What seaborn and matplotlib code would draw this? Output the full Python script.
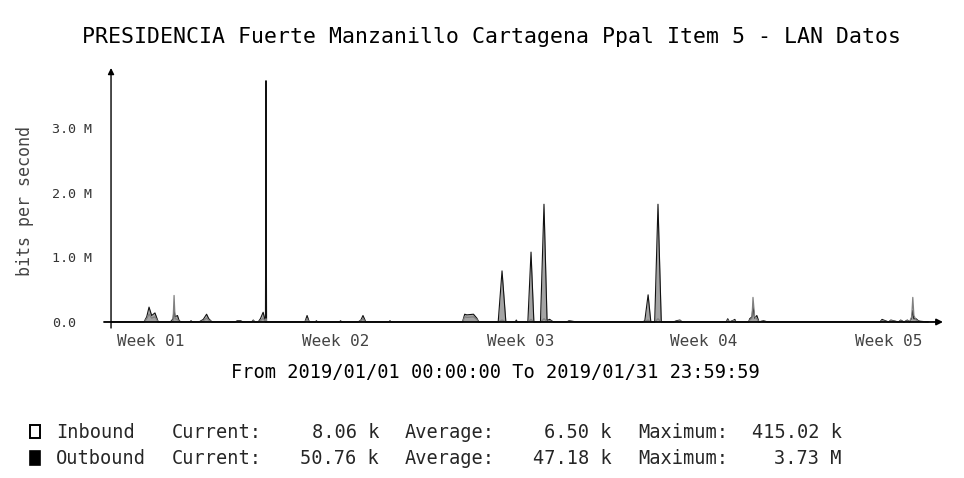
import pandas as pd
import matplotlib
matplotlib.use("Agg")
import matplotlib.pyplot as plt
from matplotlib.patches import Rectangle
import seaborn as sns

sns.set_theme(style="white")
plt.rcParams['font.family'] = ['DejaVu Sans Mono', 'DejaVu Sans']

# hours since 2019/01/01 00:00, values in Mbit/s
hours = [0, 30, 32.5, 34.6, 37, 40, 43, 54, 56.5, 57.4, 58.3, 60.5, 62, 64,
         72, 72.8, 74, 80, 84, 87, 89, 92, 113, 115, 118, 120, 128, 129.5, 131,
         134, 136, 138.5, 140.6, 141.1, 141.6, 170, 176.5, 178.5, 180.5, 186,
         187, 188, 208, 209, 210, 225, 227.5, 229.4, 232, 253, 254, 255, 320,
         322, 324, 330, 333, 335, 352.5, 356, 359.5, 368, 369, 370, 379.5,
         382.4, 385, 391, 394.2, 397, 399, 399.5, 401, 403, 415, 417, 424,
         477, 484, 486, 489, 491.5, 495, 498, 501, 512, 515, 518, 520, 560,
         561.5, 563, 567, 568, 569, 580.5, 581.5, 583.6, 584.5, 586, 588, 590,
         592, 594, 598, 700, 702, 708, 710, 717, 719, 722, 725, 727, 729,
         730, 731, 733, 735, 737, 744]
outbound = [0, 0, 0.08, 0.23, 0.10, 0.14, 0, 0, 0.05, 0.20, 0.08, 0.10, 0.02, 0,
            0, 0.02, 0, 0, 0.04, 0.12, 0.05, 0, 0, 0.02, 0.02, 0, 0, 0.03, 0,
            0, 0.05, 0.15, 0, 3.73, 0, 0, 0, 0.10, 0, 0,
            0.02, 0, 0, 0.02, 0, 0, 0.03, 0.10, 0, 0, 0.02, 0, 0,
            0.12, 0.11, 0.12, 0.06, 0, 0, 0.79, 0, 0, 0.03, 0, 0,
            1.08, 0, 0, 1.82, 0.02, 0.04, 0.04, 0.02, 0, 0, 0.02, 0,
            0, 0, 0.02, 0.42, 0, 0, 1.82, 0, 0, 0.02, 0.03, 0, 0,
            0.05, 0, 0.03, 0.04, 0, 0, 0.05, 0.08, 0.25, 0.06, 0.10, 0,
            0.01, 0.02, 0, 0, 0.04, 0, 0.03, 0, 0.03, 0, 0.03, 0, 0.06,
            0.18, 0.05, 0.05, 0.02, 0.01, 0]
inbound = [0, 0, 0.05, 0.12, 0.06, 0.08, 0, 0, 0.02, 0.41, 0.05, 0.04, 0.01, 0,
           0, 0.01, 0, 0, 0.02, 0.06, 0.03, 0, 0, 0.01, 0.01, 0, 0, 0.02, 0,
           0, 0.02, 0.06, 0, 0.05, 0, 0, 0, 0.05, 0, 0,
           0.01, 0, 0, 0.01, 0, 0, 0.02, 0.05, 0, 0, 0.01, 0, 0,
           0.08, 0.07, 0.08, 0.04, 0, 0, 0.03, 0, 0, 0.01, 0, 0,
           0.04, 0, 0, 0.05, 0.01, 0.02, 0.02, 0.01, 0, 0, 0.01, 0,
           0, 0, 0.01, 0.03, 0, 0, 0.05, 0, 0, 0.01, 0.02, 0, 0,
           0.03, 0, 0.02, 0.02, 0, 0, 0.03, 0.06, 0.38, 0.08, 0.05, 0,
           0.01, 0.01, 0, 0, 0.02, 0, 0.02, 0, 0.02, 0, 0.02, 0, 0.08,
           0.38, 0.10, 0.03, 0.01, 0.01, 0]

week_labels = ["Week 01", "Week 02", "Week 03", "Week 04", "Week 05"]
week_pos = [36.4, 204.9, 373.3, 540.0, 708.4]
ytick_vals = [0, 1, 2, 3]
ytick_labels = ["0.0", "1.0 M", "2.0 M", "3.0 M"]

legend_rows = [
    ("Inbound", "8.06 k", "6.50 k", "415.02 k"),
    ("Outbound", "50.76 k", "47.18 k", "3.73 M"),
]

df = pd.DataFrame({"hour": hours, "Outbound": outbound, "Inbound": inbound})

W, H = 964, 478
fig = plt.figure(figsize=(W / 100, H / 100), dpi=100)

def fx(px):
    return px / W

def fy(py):
    return 1 - py / H

ax = fig.add_axes([fx(104), fy(328), fx(943 - 104), (328 - 68) / H])
ax.fill_between(df["hour"], 0, df["Outbound"], color="#a4a4a4", linewidth=0)
sns.lineplot(data=df, x="hour", y="Outbound", ax=ax, color="#111111", lw=0.8)
sns.lineplot(data=df, x="hour", y="Inbound", ax=ax, color="#808080", lw=0.9)

ax.set_xlim(-6.4, 757.5)
ax.set_ylim(-0.093, 3.926)
for s in ax.spines.values():
    s.set_visible(False)

# axis arrows
ax.annotate("", xy=(757.5, 0), xytext=(-6.4, 0),
            arrowprops=dict(arrowstyle="-|>", color="black", lw=1.3,
                            mutation_scale=9, shrinkA=0, shrinkB=0))
ax.annotate("", xy=(0, 3.926), xytext=(0, -0.093),
            arrowprops=dict(arrowstyle="-|>", color="black", lw=1.0,
                            mutation_scale=9, shrinkA=0, shrinkB=0))

ax.set_xticks(week_pos)
ax.set_xticklabels(week_labels, fontsize=11.5, color="#444444")
ax.set_yticks(ytick_vals)
ax.set_yticklabels(ytick_labels, fontsize=9.6, color="#333333", ha="left")
ax.tick_params(axis="x", length=0, pad=4)
ax.tick_params(axis="y", length=0, pad=37.4)
ax.set_xlabel("")
ax.set_ylabel("")

fig.text(fx(25), fy(201), "bits per second", rotation=90, ha="center",
         va="center", fontsize=12, color="#444444")
fig.text(fx(492), fy(37), "PRESIDENCIA Fuerte Manzanillo Cartagena Ppal Item 5 - LAN Datos",
         ha="center", va="center", fontsize=15.5, color="black")
fig.text(fx(495), fy(372), "From 2019/01/01 00:00:00 To 2019/01/31 23:59:59",
         ha="center", va="center", fontsize=13.4, color="black")

row_y = [432, 459]
for (name, cur, avg, mx), y in zip(legend_rows, row_y):
    fig.text(fx(56), fy(y), name, ha="left", va="center", fontsize=13.4)
    fig.text(fx(172), fy(y), "Current:", ha="left", va="center", fontsize=13.4)
    fig.text(fx(379), fy(y), cur, ha="right", va="center", fontsize=13.4)
    fig.text(fx(405), fy(y), "Average:", ha="left", va="center", fontsize=13.4)
    fig.text(fx(612), fy(y), avg, ha="right", va="center", fontsize=13.4)
    fig.text(fx(638), fy(y), "Maximum:", ha="left", va="center", fontsize=13.4)
    fig.text(fx(842), fy(y), mx, ha="right", va="center", fontsize=13.4)

fig.patches.append(Rectangle((fx(30), fy(438)), fx(10), 13 / H, transform=fig.transFigure,
                             facecolor="white", edgecolor="black", lw=1.4))
fig.patches.append(Rectangle((fx(30), fy(465)), fx(10), 14 / H, transform=fig.transFigure,
                             facecolor="black", edgecolor="black", lw=1.2))

fig.savefig("out.png", dpi=100)
